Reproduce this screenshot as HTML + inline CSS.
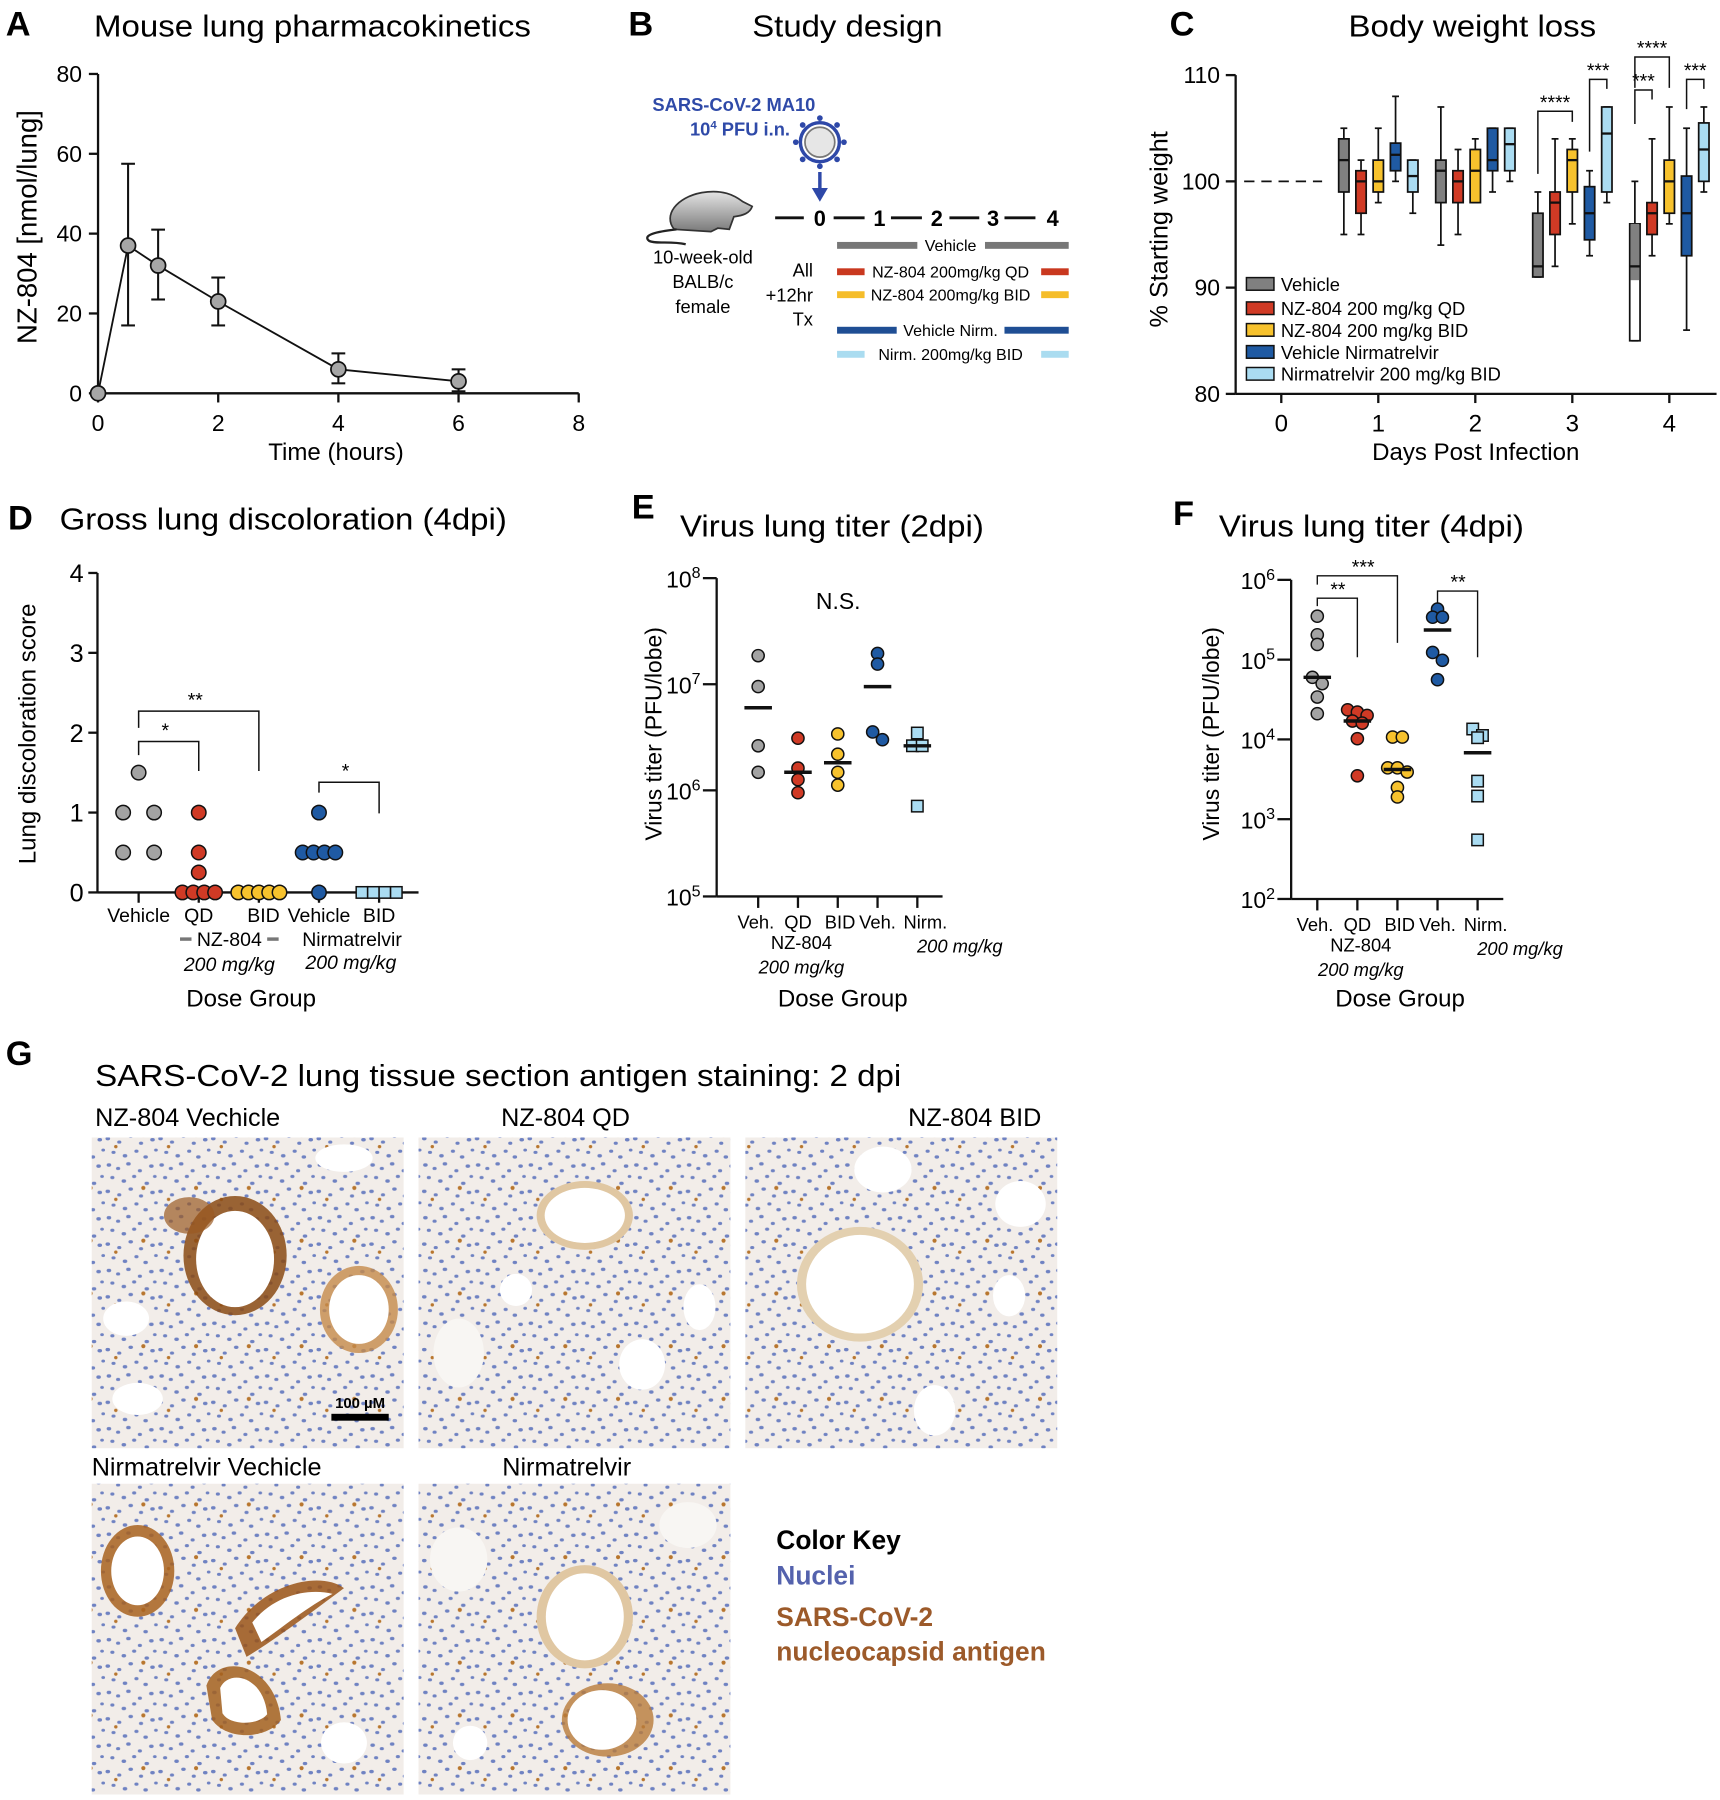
<!DOCTYPE html>
<html><head><meta charset="utf-8"><title>NZ-804 figure</title>
<style>
html,body{margin:0;padding:0;background:#fff;}
svg{display:block;font-family:"Liberation Sans",Arial,sans-serif;}
</style></head>
<body>
<svg id="fig" xmlns="http://www.w3.org/2000/svg" width="1720" height="1800" viewBox="0 0 1500 1569.8" preserveAspectRatio="none">
<defs>
<pattern id="tissue" width="46" height="46" patternUnits="userSpaceOnUse">
<rect width="46" height="46" fill="#f2ede9"/>
<g fill="#6f82c2">
<ellipse cx="3" cy="4" rx="2" ry="1.5"/><ellipse cx="11" cy="7" rx="1.8" ry="1.4"/><ellipse cx="20" cy="3" rx="2" ry="1.5"/><ellipse cx="30" cy="9" rx="1.8" ry="1.4"/><ellipse cx="40" cy="5" rx="2" ry="1.5"/>
<ellipse cx="6" cy="15" rx="1.8" ry="1.4"/><ellipse cx="16" cy="18" rx="2" ry="1.5"/><ellipse cx="25" cy="14" rx="1.8" ry="1.4"/><ellipse cx="36" cy="20" rx="2" ry="1.5"/><ellipse cx="43" cy="14" rx="1.6" ry="1.3"/>
<ellipse cx="2" cy="27" rx="2" ry="1.5"/><ellipse cx="12" cy="30" rx="1.8" ry="1.4"/><ellipse cx="22" cy="25" rx="2" ry="1.5"/><ellipse cx="31" cy="31" rx="1.8" ry="1.4"/><ellipse cx="41" cy="28" rx="2" ry="1.5"/>
<ellipse cx="7" cy="39" rx="1.8" ry="1.4"/><ellipse cx="17" cy="42" rx="2" ry="1.5"/><ellipse cx="27" cy="38" rx="1.8" ry="1.4"/><ellipse cx="35" cy="43" rx="2" ry="1.5"/><ellipse cx="44" cy="37" rx="1.6" ry="1.3"/>
</g>
<g fill="#b8762e"><circle cx="33" cy="24" r="1.8"/><circle cx="9" cy="34" r="1.5"/></g>
</pattern>
<linearGradient id="mouseg" x1="0" y1="0" x2="0" y2="1"><stop offset="0" stop-color="#e4e4e4"/><stop offset="1" stop-color="#7a7a7a"/></linearGradient>
</defs>

<g font-size="27">
<text x="5" y="31" font-weight="bold" font-size="30">A</text>
<text x="82" y="32" textLength="381" lengthAdjust="spacingAndGlyphs">Mouse lung pharmacokinetics</text>
<text x="548" y="31" font-weight="bold" font-size="30">B</text>
<text x="656" y="32" textLength="166" lengthAdjust="spacingAndGlyphs">Study design</text>
<text x="1020" y="31" font-weight="bold" font-size="30">C</text>
<text x="1176" y="32" textLength="216" lengthAdjust="spacingAndGlyphs">Body weight loss</text>
<text x="7" y="462" font-weight="bold" font-size="30">D</text>
<text x="52" y="462" textLength="390" lengthAdjust="spacingAndGlyphs">Gross lung discoloration (4dpi)</text>
<text x="551" y="452" font-weight="bold" font-size="30">E</text>
<text x="593" y="468" textLength="265" lengthAdjust="spacingAndGlyphs">Virus lung titer (2dpi)</text>
<text x="1023" y="458" font-weight="bold" font-size="30">F</text>
<text x="1063" y="468" textLength="266" lengthAdjust="spacingAndGlyphs">Virus lung titer (4dpi)</text>
<text x="5" y="929" font-weight="bold" font-size="30">G</text>
<text x="83" y="947" textLength="703" lengthAdjust="spacingAndGlyphs">SARS-CoV-2 lung tissue section antigen staining: 2 dpi</text>
</g>

<g>
<text x="640" y="97" text-anchor="middle" fill="#2f4aa8" font-weight="bold" font-size="16">SARS-CoV-2 MA10</text>
<text x="689" y="118" text-anchor="end" fill="#2f4aa8" font-weight="bold" font-size="16">10<tspan font-size="10" dy="-6">4</tspan><tspan dy="6"> PFU i.n.</tspan></text>
<g>
<circle cx="715" cy="124" r="17" fill="none" stroke="#2e48a8" stroke-width="3"/>
<circle cx="715" cy="124" r="13" fill="#e6e6e6" stroke="#777" stroke-width="1.5"/>
<g fill="#2e48a8"><circle cx="715" cy="103" r="2.5"/><circle cx="715" cy="145" r="2.5"/><circle cx="694" cy="124" r="2.5"/><circle cx="736" cy="124" r="2.5"/><circle cx="700" cy="109" r="2.5"/><circle cx="730" cy="109" r="2.5"/><circle cx="700" cy="139" r="2.5"/><circle cx="730" cy="139" r="2.5"/></g>
</g>
<line x1="715" y1="150" x2="715" y2="166" stroke="#2e48a8" stroke-width="3"/>
<polygon points="708,164 722,164 715,176" fill="#2e48a8"/>
<path d="M588,200 C578,188 590,172 612,168 C630,165 640,170 648,176 L656,180 C654,186 648,188 640,189 L636,200 L626,199 L620,202 Z" fill="url(#mouseg)" stroke="#333" stroke-width="1.5"/>
<path d="M590,200 C572,202 560,205 566,210 C572,213 585,210 598,213" fill="none" stroke="#222" stroke-width="2"/>
<g font-weight="bold" font-size="19" text-anchor="middle">
<g stroke="#111" stroke-width="2.5"><line x1="676" y1="190" x2="701" y2="190"/><line x1="727" y1="190" x2="754" y2="190"/><line x1="777" y1="190" x2="804" y2="190"/><line x1="828" y1="190" x2="854" y2="190"/><line x1="876" y1="190" x2="903" y2="190"/></g>
<text x="715" y="197">0</text><text x="767" y="197">1</text><text x="817" y="197">2</text><text x="866" y="197">3</text><text x="918" y="197">4</text>
</g>
<g font-size="16" text-anchor="middle"><text x="613" y="230">10-week-old</text><text x="613" y="251">BALB/c</text><text x="613" y="273">female</text></g>
<g font-size="16" text-anchor="end"><text x="709" y="241">All</text><text x="709" y="263">+12hr</text><text x="709" y="284">Tx</text></g>
<g font-size="14" text-anchor="middle">
<rect x="730" y="211" width="70" height="6" fill="#777"/><rect x="859" y="211" width="73" height="6" fill="#777"/><text x="829" y="219">Vehicle</text>
<rect x="730" y="234" width="24" height="6" fill="#c9381f"/><rect x="908" y="234" width="24" height="6" fill="#c9381f"/><text x="829" y="242">NZ-804 200mg/kg QD</text>
<rect x="730" y="254" width="24" height="6" fill="#f5bd2a"/><rect x="908" y="254" width="24" height="6" fill="#f5bd2a"/><text x="829" y="262">NZ-804 200mg/kg BID</text>
<rect x="730" y="285" width="52" height="6" fill="#1f4e94"/><rect x="876" y="285" width="56" height="6" fill="#1f4e94"/><text x="829" y="293">Vehicle Nirm.</text>
<rect x="730" y="306" width="24" height="6" fill="#aadcf0"/><rect x="908" y="306" width="24" height="6" fill="#aadcf0"/><text x="829" y="314">Nirm. 200mg/kg BID</text>
</g>
</g>

<g font-size="22">
<text x="83" y="982">NZ-804 Vechicle</text>
<text x="437" y="982">NZ-804 QD</text>
<text x="792" y="982">NZ-804 BID</text>
<text x="80" y="1287">Nirmatrelvir Vechicle</text>
<text x="438" y="1287">Nirmatrelvir</text>
<g>
<rect x="80" y="992" width="272" height="271" fill="url(#tissue)"/>
<ellipse cx="205" cy="1095" rx="45" ry="52" fill="#8a4a14" opacity="0.85"/>
<ellipse cx="205" cy="1098" rx="34" ry="42" fill="#fff"/>
<ellipse cx="165" cy="1060" rx="22" ry="16" fill="#9a5a22" opacity="0.7"/>
<ellipse cx="313" cy="1142" rx="34" ry="38" fill="#c48a4a" opacity="0.8"/>
<ellipse cx="313" cy="1142" rx="26" ry="30" fill="#fff"/>
<ellipse cx="110" cy="1150" rx="20" ry="15" fill="#fff"/><ellipse cx="300" cy="1010" rx="25" ry="12" fill="#fff"/><ellipse cx="120" cy="1220" rx="22" ry="14" fill="#fff"/>
<rect x="289" y="1233" width="50" height="6" fill="#000"/>
<text x="314" y="1228" font-size="13" text-anchor="middle" font-weight="bold">100 µM</text>
</g>
<g>
<rect x="365" y="992" width="272" height="271" fill="url(#tissue)"/>
<ellipse cx="510" cy="1060" rx="42" ry="30" fill="#e0c7a2"/><ellipse cx="510" cy="1060" rx="35" ry="24" fill="#fff"/>
<ellipse cx="450" cy="1125" rx="14" ry="14" fill="#fff"/><ellipse cx="560" cy="1190" rx="20" ry="22" fill="#fff"/><ellipse cx="610" cy="1140" rx="14" ry="20" fill="#fff"/><ellipse cx="400" cy="1180" rx="22" ry="30" fill="#f8f6f3"/>
</g>
<g>
<rect x="650" y="992" width="272" height="271" fill="url(#tissue)"/>
<ellipse cx="750" cy="1120" rx="55" ry="50" fill="#e3d0b0"/><ellipse cx="750" cy="1120" rx="47" ry="43" fill="#fff"/>
<ellipse cx="770" cy="1020" rx="25" ry="20" fill="#fff"/><ellipse cx="890" cy="1050" rx="22" ry="20" fill="#fff"/><ellipse cx="815" cy="1230" rx="18" ry="22" fill="#fff"/><ellipse cx="880" cy="1130" rx="14" ry="18" fill="#fff"/>
</g>
<g>
<rect x="80" y="1294" width="272" height="271" fill="url(#tissue)"/>
<ellipse cx="120" cy="1370" rx="32" ry="40" fill="#a8621f" opacity="0.85"/><ellipse cx="120" cy="1370" rx="23" ry="30" fill="#fff"/>
<path d="M205,1420 C230,1380 280,1370 300,1385 C280,1400 240,1430 215,1445 Z" fill="#9a5418" opacity="0.85"/>
<path d="M220,1415 C240,1390 270,1385 290,1390 C270,1400 245,1420 228,1432 Z" fill="#fff"/>
<path d="M180,1470 C190,1440 240,1450 245,1500 C235,1515 200,1520 185,1500 Z" fill="#a3601e" opacity="0.85"/>
<path d="M192,1472 C200,1455 230,1462 233,1495 C225,1505 200,1505 194,1494 Z" fill="#fff"/>
<ellipse cx="300" cy="1520" rx="20" ry="18" fill="#fff"/>
</g>
<g>
<rect x="365" y="1294" width="272" height="271" fill="url(#tissue)"/>
<ellipse cx="510" cy="1410" rx="42" ry="45" fill="#e0c7a2"/><ellipse cx="510" cy="1410" rx="34" ry="38" fill="#fff"/>
<ellipse cx="530" cy="1500" rx="40" ry="32" fill="#b87a3a" opacity="0.8"/><ellipse cx="525" cy="1500" rx="30" ry="26" fill="#fff"/>
<ellipse cx="400" cy="1360" rx="25" ry="28" fill="#f8f6f3"/><ellipse cx="600" cy="1330" rx="25" ry="20" fill="#f8f6f3"/><ellipse cx="410" cy="1520" rx="15" ry="15" fill="#fff"/>
</g>
<g font-weight="bold" font-size="23">
<text x="677" y="1351" fill="#000">Color Key</text>
<text x="677" y="1382" fill="#5462ad">Nuclei</text>
<text x="677" y="1418" fill="#9c5a2a">SARS-CoV-2</text>
<text x="677" y="1448" fill="#9c5a2a">nucleocapsid antigen</text>
</g>
</g>

<g id="charts"></g>
</svg>

<script>
// ===== Panel A data =====
const pkTimes = [0, 0.5, 1, 2, 4, 6];
const pkMeans = [0, 37, 32, 23, 6, 3];
const pkLow = [0, 17, 23.5, 17, 2.5, 0.5];
const pkHigh = [0, 57.5, 41, 29, 10, 6];
const pkYTicks = [0, 20, 40, 60, 80];
const pkXTicks = [0, 2, 4, 6, 8];

// ===== Panel C data =====
const bwDays = [1, 2, 3, 4];
const bwGroups = ['Vehicle', 'NZ-804 200 mg/kg QD', 'NZ-804 200 mg/kg BID', 'Vehicle Nirmatrelvir', 'Nirmatrelvir 200 mg/kg BID'];
const bwMin = [[95,95,98,100,97],[94,95,98,99,100],[91,92,96,93,98],[85,93,96,86,99]];
const bwQ1 = [[99,97,99,101,99],[98,98,98,101,101],[91,95,99,94.5,99],[85,95,97,93,100]];
const bwMed = [[102,100,100,102.5,100.5],[101,100,101,102,103.5],[92,98,102,97,104.5],[92,97,100,97,103]];
const bwQ3 = [[104,101,102,103.6,102],[102,101,103,105,105],[97,99,103,99.5,107],[96,98,102,100.5,105.5]];
const bwMax = [[105,102,105,108,102],[107,103,104,105,105],[99,104,104,101,107],[100,104,107,105,107]];
const bwShadeFloor = [[0,0,0,0,0],[0,0,0,0,0],[0,0,0,0,0],[90.7,0,0,0,0]];
const bwYTicks = [80, 90, 100, 110];
const bwXTicks = [0, 1, 2, 3, 4];
const bwSig = [
  [3,0,2,106.6,100.7,105.6,'****'],
  [3,3,4,109.6,102.8,108.7,'***'],
  [4,0,1,108.6,105.4,107.7,'***'],
  [4,0,2,111.7,108.8,108.8,'****'],
  [4,3,4,109.6,106.8,108.7,'***']
];

// ===== Panel D data =====
const dCats = ['Vehicle','QD','BID','Vehicle','BID'];
const dScores = [[1.5,1,1,0.5,0.5],[1,0.5,0.25,0,0,0,0],[0,0,0,0,0],[1,0.5,0.5,0.5,0.5,0],[0,0,0,0]];
const dYTicks = [0,1,2,3,4];
const dSig = [[0,1,1.89,1.72,1.52,'*'],[0,2,2.27,2.06,1.52,'**'],[3,4,1.38,1.25,0.99,'*']];

// ===== Panel E data =====
const eCats = ['Veh.','QD','BID','Veh.','Nirm.'];
const eTiters = [[1.86e7,9.5e6,2.63e6,1.48e6],[3.1e6,1.62e6,1.26e6,9.5e5],[3.4e6,2.19e6,1.48e6,1.12e6],[1.95e7,1.55e7,3.0e6,3.55e6],[3.47e6,2.63e6,2.63e6,7.1e5]];
const eMeans = [6.0e6,1.48e6,1.82e6,9.5e6,2.63e6];
const eYTicks = [5,6,7,8];

// ===== Panel F data =====
const fCats = ['Veh.','QD','BID','Veh.','Nirm.'];
const fTiters = [[3.5e5,2.05e5,1.55e5,6.0e4,5.0e4,3.4e4,2.1e4],[2.35e4,2.2e4,2.0e4,1.7e4,1.6e4,1.02e4,3.5e3],[1.07e4,1.07e4,4.4e3,4.4e3,3.9e3,2.5e3,1.9e3],[4.3e5,3.4e5,3.4e5,1.23e5,9.8e4,5.6e4],[1.35e4,1.12e4,1.05e4,3.0e3,1.95e3,5.5e2]];
const fMeans = [6.0e4,1.7e4,4.2e3,2.35e5,6.8e3];
const fYTicks = [2,3,4,5,6];
const fSig = [[0,1,5.77,5.67,5.03,'**'],[0,2,6.05,5.94,5.21,'***'],[3,4,5.86,5.70,5.03,'**']];

const NS = 'http://www.w3.org/2000/svg';
const root = document.getElementById('charts');
function mk(tag, attrs, parent) {
  const e = document.createElementNS(NS, tag);
  for (const k in attrs) e.setAttribute(k, attrs[k]);
  (parent || root).appendChild(e);
  return e;
}
function grp(name) {
  const g = mk('g', {});
  
  
  return g;
}
function txt(s, x, y, size, anchor, parent, extra) {
  const a = {x: x, y: y, 'font-size': size, 'text-anchor': anchor || 'middle'};
  if (extra) for (const k in extra) a[k] = extra[k];
  const t = mk('text', a, parent);
  t.textContent = s;
  return t;
}
function ln(x1, y1, x2, y2, w, parent, col) {
  return mk('line', {x1: x1, y1: y1, x2: x2, y2: y2, stroke: col || '#111', 'stroke-width': w}, parent);
}
function powLabel(p, x, y, parent) {
  const t = mk('text', {x: x, y: y, 'font-size': 20, 'text-anchor': 'end'}, parent);
  const a = document.createElementNS(NS, 'tspan'); a.textContent = '10'; t.appendChild(a);
  const b = document.createElementNS(NS, 'tspan'); b.textContent = String(p);
  b.setAttribute('font-size', '14'); b.setAttribute('dy', '-8'); t.appendChild(b);
  t.setAttribute('dx', '8');
  return t;
}
function jitter(ys, step) {
  const idx = ys.map((y, i) => i).sort((a, b) => ys[a] - ys[b]);
  const off = new Array(ys.length).fill(0);
  let i = 0;
  while (i < idx.length) {
    let j = i;
    while (j + 1 < idx.length && ys[idx[j + 1]] - ys[idx[i]] < 7) j++;
    const n = j - i + 1;
    for (let k = 0; k < n; k++) off[idx[i + k]] = (k - (n - 1) / 2) * step;
    i = j + 1;
  }
  return off;
}
const fills = ['#a3a3a3', '#d03a25', '#f7c22d', '#1f5aa3', '#aadcf2'];
const boxFills = ['#808080', '#d03a25', '#f7c22d', '#1f5aa3', '#aadcf2'];

// ===== Panel A =====
(function () {
  const g = grp('pk-chart');
  const xA = t => 85.5 + t * (504.7 - 85.5) / 8;
  const yA = v => 343 - v * (343 - 64.5) / 80;
  const ax = ln(xA(0), yA(80), xA(0), yA(0), 2, g);
  
  
  const bx = ln(xA(0), yA(0), xA(8), yA(0), 2, g);
  
  
  pkYTicks.forEach(v => {
    ln(xA(0) - 8, yA(v), xA(0), yA(v), 2, g);
    const t = txt(String(v), xA(0) - 14, yA(v) + 7, 20, 'end', g);
    
    
  });
  pkXTicks.forEach(v => {
    ln(xA(v), yA(0), xA(v), yA(0) + 8, 2, g);
    const t = txt(String(v), xA(v), yA(0) + 33, 20, 'middle', g);
    
    
  });
  const xt = txt('Time (hours)', 293, 401, 21, 'middle', g);
  
  
  const yt = txt('NZ-804 [nmol/lung]', 0, 0, 24, 'middle', g, {transform: 'translate(32,198) rotate(-90)'});
  
  
  const pts = pkTimes.map((t, i) => xA(t) + ',' + yA(pkMeans[i])).join(' ');
  const line = mk('polyline', {points: pts, fill: 'none', stroke: '#111', 'stroke-width': 1.6}, g);
  
  
  pkTimes.forEach((t, i) => {
    if (pkHigh[i] > pkLow[i]) {
      const e = ln(xA(t), yA(pkLow[i]), xA(t), yA(pkHigh[i]), 1.8, g);
      
      
      ln(xA(t) - 6, yA(pkLow[i]), xA(t) + 6, yA(pkLow[i]), 1.8, g);
      ln(xA(t) - 6, yA(pkHigh[i]), xA(t) + 6, yA(pkHigh[i]), 1.8, g);
    }
    const c = mk('circle', {cx: xA(t), cy: yA(pkMeans[i]), r: 6.5, fill: '#a6a6a6', stroke: '#111', 'stroke-width': 1.5}, g);
    
    
  });
})();

// ===== Panel C =====
(function () {
  const g = grp('body-weight-chart');
  const xC = d => 1117.4 + d * 84.6;
  const yC = v => 343.5 - (v - 80) * (343.5 - 65.5) / 30;
  const offs = [-0.355, -0.178, 0, 0.178, 0.356];
  const ya = ln(1077.6, yC(110), 1077.6, yC(80), 2, g);
  
  
  const xa = ln(1077.6, yC(80), 1497, yC(80), 2, g);
  
  
  bwYTicks.forEach(v => {
    ln(1069, yC(v), 1077.6, yC(v), 2, g);
    const t = txt(String(v), 1064, yC(v) + 7, 20, 'end', g);
    
    
  });
  bwXTicks.forEach(d => {
    ln(xC(d), yC(80), xC(d), yC(80) + 8, 2, g);
    const t = txt(String(d), xC(d), yC(80) + 33, 21, 'middle', g);
    
    
  });
  const xt = txt('Days Post Infection', 1287, 401, 21, 'middle', g);
  
  
  const yt = txt('% Starting weight', 0, 0, 22, 'middle', g, {transform: 'translate(1018,200) rotate(-90)'});
  
  
  const dl = mk('line', {x1: 1085, y1: yC(100), x2: 1153, y2: yC(100), stroke: '#111', 'stroke-width': 1.6, 'stroke-dasharray': '9,6'}, g);
  
  
  bwDays.forEach((d, di) => {
    for (let k = 0; k < 5; k++) {
      const cx = xC(d + offs[k]);
      const w = 9;
      const wl = ln(cx, yC(bwMin[di][k]), cx, yC(bwMax[di][k]), 1.5, g);
      
      
      ln(cx - 3, yC(bwMin[di][k]), cx + 3, yC(bwMin[di][k]), 1.5, g);
      ln(cx - 3, yC(bwMax[di][k]), cx + 3, yC(bwMax[di][k]), 1.5, g);
      const floor = bwShadeFloor[di][k];
      const b = mk('rect', {x: cx - w / 2, y: yC(bwQ3[di][k]), width: w, height: yC(bwQ1[di][k]) - yC(bwQ3[di][k]), fill: floor ? '#fff' : boxFills[k], stroke: '#111', 'stroke-width': 1.5}, g);
      
      
      if (floor) {
        const s = mk('rect', {x: cx - w / 2 + 0.75, y: yC(bwQ3[di][k]), width: w - 1.5, height: yC(floor) - yC(bwQ3[di][k]), fill: boxFills[k]}, g);
        
        
      }
      const m = ln(cx - w / 2, yC(bwMed[di][k]), cx + w / 2, yC(bwMed[di][k]), 2, g);
      
      
    }
  });
  bwSig.forEach(s => {
    const x1 = xC(s[0] + offs[s[1]]), x2 = xC(s[0] + offs[s[2]]);
    const p = mk('polyline', {points: x1 + ',' + yC(s[4]) + ' ' + x1 + ',' + yC(s[3]) + ' ' + x2 + ',' + yC(s[3]) + ' ' + x2 + ',' + yC(s[5]), fill: 'none', stroke: '#111', 'stroke-width': 1.3}, g);
    
    
    const t = txt(s[6], (x1 + x2) / 2, yC(s[3]) - 2, 17, 'middle', g);
    
    
  });
  const lg = grp('legend');
  g.appendChild(lg);
  const ly = [247.6, 268.8, 287.7, 306.9, 326];
  bwGroups.forEach((name, k) => {
    const r = mk('rect', {x: 1087, y: ly[k] - 5.5, width: 24, height: 11, fill: boxFills[k], stroke: '#111', 'stroke-width': 1.3}, lg);
    
    
    const t = txt(name, 1117, ly[k] + 6, 16, 'start', lg);
    
    
  });
})();

// ===== Panel D =====
(function () {
  const g = grp('lung-discoloration-chart');
  const xD = i => 120.9 + i * 52.43;
  const yD = v => 778.3 - v * (778.3 - 499.7) / 4;
  const ya = ln(85, yD(4), 85, yD(0), 2, g);
  
  
  const xa = ln(85, yD(0), 365, yD(0), 2, g);
  
  
  dYTicks.forEach(v => {
    ln(77, yD(v), 85, yD(v), 2, g);
    const t = txt(String(v), 73, yD(v) + 8, 22, 'end', g);
    
    
  });
  dCats.forEach((c, i) => {
    ln(xD(i), yD(0), xD(i), yD(0) + 9, 2, g);
    const t = txt(c, xD(i) + (i === 2 ? 4 : 0), 804, 17, 'middle', g);
    
    
  });
  const sub1 = txt('NZ-804', 200, 825, 17, 'middle', g);
  
  
  ln(157, 819, 167, 819, 3, g, '#777'); ln(233, 819, 243, 819, 3, g, '#777');
  const sub2 = txt('Nirmatrelvir', 307, 825, 17, 'middle', g);
  
  
  const i1 = txt('200 mg/kg', 200, 847, 17, 'middle', g, {'font-style': 'italic'});
  
  
  const i2 = txt('200 mg/kg', 306, 845, 17, 'middle', g, {'font-style': 'italic'});
  
  
  const xt = txt('Dose Group', 219, 878, 21, 'middle', g);
  
  
  const yt = txt('Lung discoloration score', 0, 0, 21, 'middle', g, {transform: 'translate(31,640) rotate(-90)'});
  
  
  dSig.forEach(s => {
    const x1 = xD(s[0]), x2 = xD(s[1]);
    const p = mk('polyline', {points: x1 + ',' + yD(s[3]) + ' ' + x1 + ',' + yD(s[2]) + ' ' + x2 + ',' + yD(s[2]) + ' ' + x2 + ',' + yD(s[4]), fill: 'none', stroke: '#111', 'stroke-width': 1.3}, g);
    
    
    const t = txt(s[5], (x1 + x2) / 2 - 3, yD(s[2]) - 4, 17, 'middle', g);
    
    
  });
  const steps = [27, 9.5, 9, 9.5, 10];
  dScores.forEach((arr, i) => {
    const ys = arr.map(v => yD(v));
    const off = jitter(ys, steps[i]);
    arr.forEach((v, j) => {
      let e;
      if (i === 4) {
        e = mk('rect', {x: xD(i) + off[j] - 5, y: yD(v) - 5, width: 10, height: 10, fill: fills[i], stroke: '#111', 'stroke-width': 1.3}, g);
      } else {
        e = mk('circle', {cx: xD(i) + off[j], cy: yD(v), r: 6.3, fill: fills[i], stroke: '#111', 'stroke-width': 1.3}, g);
      }
      
      
    });
  });
})();

// ===== Panels E & F =====
const catShift = [-2, 0, 2, 0, 7];
function titerChart(cfg) {
  const g = grp(cfg.name);
  const yL = lv => cfg.y0 - (lv - cfg.lmin) * (cfg.y0 - cfg.y1) / (cfg.lmax - cfg.lmin);
  const xL = i => cfg.xs + i * cfg.dx;
  const ya = ln(cfg.ax, cfg.y1, cfg.ax, cfg.y0, 2, g);
  
  
  const xa = ln(cfg.ax, cfg.y0, cfg.axEnd, cfg.y0, 2, g);
  
  
  cfg.ticks.forEach(p => {
    ln(cfg.ax - 12, yL(p), cfg.ax, yL(p), 2, g);
    const t = powLabel(p, cfg.ax - 22, yL(p) + 8, g);
    
    
  });
  cfg.cats.forEach((c, i) => {
    ln(xL(i), cfg.y0, xL(i), cfg.y0 + 10, 2, g);
    const t = txt(c, xL(i) + catShift[i], cfg.y0 + 28, 16, 'middle', g);
    
    
  });
  const s1 = txt('NZ-804', xL(1) + 3, cfg.y0 + 46, 16, 'middle', g);
  
  
  const s2 = txt('200 mg/kg', xL(1) + 3, cfg.y0 + 67, 16, 'middle', g, {'font-style': 'italic'});
  
  
  const s3 = txt('200 mg/kg', xL(4) + 37, cfg.y0 + 49, 16, 'middle', g, {'font-style': 'italic'});
  
  
  const xt = txt('Dose Group', cfg.titleX, 878, 21, 'middle', g);
  
  
  const yt = txt('Virus titer (PFU/lobe)', 0, 0, 20, 'middle', g, {transform: 'translate(' + cfg.ytX + ',640) rotate(-90)'});
  
  
  (cfg.sig || []).forEach(s => {
    const x1 = xL(s[0]), x2 = xL(s[1]);
    const p = mk('polyline', {points: x1 + ',' + yL(s[3]) + ' ' + x1 + ',' + yL(s[2]) + ' ' + x2 + ',' + yL(s[2]) + ' ' + x2 + ',' + yL(s[4]), fill: 'none', stroke: '#111', 'stroke-width': 1.2}, g);
    
    
    const t = txt(s[5], x1 + (s[1] - s[0] > 1 ? 40 : 18), yL(s[2]) - 2, 17, 'middle', g);
    
    
  });
  cfg.data.forEach((arr, i) => {
    const ys = arr.map(v => yL(Math.log10(v)));
    const off = jitter(ys, 8.5);
    arr.forEach((v, j) => {
      let e;
      if (i === 4) {
        e = mk('rect', {x: xL(i) + off[j] - 5, y: ys[j] - 5, width: 10, height: 10, fill: fills[i], stroke: '#111', 'stroke-width': 1.3}, g);
      } else {
        e = mk('circle', {cx: xL(i) + off[j], cy: ys[j], r: 5.3, fill: fills[i], stroke: '#111', 'stroke-width': 1.3}, g);
      }
      
      
    });
    const m = ln(xL(i) - 12, yL(Math.log10(cfg.means[i])), xL(i) + 12, yL(Math.log10(cfg.means[i])), 3, g);
    
    
  });
  return g;
}
const gE = titerChart({name: 'titer-2dpi-chart', cats: eCats, data: eTiters, means: eMeans, ticks: eYTicks,
  lmin: 5, lmax: 8, y0: 781.8, y1: 504.2, ax: 625, axEnd: 822, xs: 661.2, dx: 34.7, titleX: 735, ytX: 577});
const ns = txt('N.S.', 731, 531, 20, 'middle', gE);


titerChart({name: 'titer-4dpi-chart', cats: fCats, data: fTiters, means: fMeans, ticks: fYTicks, sig: fSig,
  lmin: 2, lmax: 6, y0: 784, y1: 505.7, ax: 1126, axEnd: 1311, xs: 1148.8, dx: 34.95, titleX: 1221, ytX: 1063});
</script>
</body></html>
